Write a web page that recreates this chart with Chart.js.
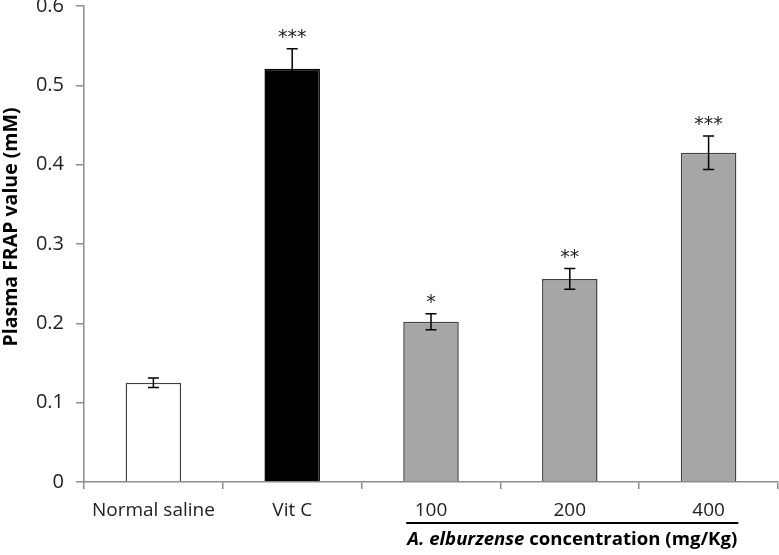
<!DOCTYPE html>
<html>
<head>
<meta charset="utf-8">
<script src="https://cdn.jsdelivr.net/npm/chart.js@4/dist/chart.umd.min.js"></script>
<style>
  html, body { margin: 0; padding: 0; background: #fff; }
</style>
</head>
<body>
<canvas id="chart" width="779" height="555"></canvas>
<script>
// data
const categories = ["Normal saline", "Vit C", "100", "200", "400"];
const frapValues = [0.125, 0.521, 0.202, 0.256, 0.415];
const frapErrors = [0.006, 0.025, 0.010, 0.013, 0.021];
const significance = ["", "***", "*", "**", "***"];
const yTicks = [0, 0.1, 0.2, 0.3, 0.4, 0.5, 0.6];
const yTitle = "Plasma FRAP value (mM)";
const groupItalic = "A. elburzense";
const groupRest = " concentration (mg/Kg)";

const FONT = "'Open Sans', 'Noto Sans', sans-serif";
const AXIS = "#8c8c8c";
const fills = ["#ffffff", "#000000", "#a6a6a6", "#a6a6a6", "#a6a6a6"];
const edges = ["#404040", "#000000", "#404040", "#404040", "#404040"];

// error bars + significance stars
const errorBars = {
  id: "errorBars",
  afterDatasetsDraw(chart) {
    const ctx = chart.ctx;
    const y = chart.scales.y;
    const meta = chart.getDatasetMeta(0);
    ctx.save();
    meta.data.forEach((bar, i) => {
      const top = y.getPixelForValue(frapValues[i] + frapErrors[i]);
      const bot = y.getPixelForValue(frapValues[i] - frapErrors[i]);
      ctx.strokeStyle = "#000";
      ctx.lineWidth = 1.5;
      ctx.beginPath();
      ctx.moveTo(bar.x, top); ctx.lineTo(bar.x, bot);
      ctx.moveTo(bar.x - 5.5, top); ctx.lineTo(bar.x + 5.5, top);
      ctx.moveTo(bar.x - 5.5, bot); ctx.lineTo(bar.x + 5.5, bot);
      ctx.stroke();
      if (significance[i]) {
        ctx.fillStyle = "#222";
        ctx.font = "19px 'DejaVu Sans'";
        ctx.textAlign = "center";
        ctx.textBaseline = "alphabetic";
        ctx.fillText(significance[i], bar.x, top - 6);
      }
    });
    ctx.restore();
  }
};

// y title, bracket line and group title under the dose bars
const extraText = {
  id: "extraText",
  afterDraw(chart) {
    const ctx = chart.ctx;
    const meta = chart.getDatasetMeta(0);
    const a = meta.data[2], b = meta.data[4];
    const x1 = a.x - a.width / 2 + 3, x2 = b.x + b.width / 2 + 2;
    ctx.save();
    ctx.strokeStyle = "#000";
    ctx.lineWidth = 2;
    ctx.beginPath();
    ctx.moveTo(x1, 523); ctx.lineTo(x2, 523);
    ctx.stroke();

    ctx.fillStyle = "#000";
    ctx.textBaseline = "alphabetic";
    ctx.textAlign = "left";
    const fi = "italic bold 18.6px " + FONT, fb = "bold 18.6px " + FONT;
    ctx.font = fi; const w1 = ctx.measureText(groupItalic).width;
    ctx.font = fb; const w2 = ctx.measureText(groupRest).width;
    const start = (x1 + x2) / 2 - (w1 + w2) / 2;
    ctx.font = fi; ctx.fillText(groupItalic, start, 545);
    ctx.font = fb; ctx.fillText(groupRest, start + w1, 545);

    ctx.translate(11, 227);
    ctx.rotate(-Math.PI / 2);
    ctx.textAlign = "center";
    ctx.textBaseline = "middle";
    ctx.font = "bold 19.5px " + FONT;
    ctx.fillText(yTitle, 0, 0);
    ctx.restore();
  }
};

new Chart(document.getElementById("chart"), {
  type: "bar",
  data: {
    labels: categories,
    datasets: [{
      data: frapValues,
      backgroundColor: fills,
      borderColor: edges,
      borderWidth: 1.5,
      categoryPercentage: 1,
      barPercentage: 0.4
    }]
  },
  options: {
    responsive: false,
    animation: false,
    layout: { padding: { left: 0, right: 1, top: 0, bottom: 0 } },
    plugins: { legend: { display: false }, tooltip: { enabled: false } },
    scales: {
      x: {
        grid: { drawOnChartArea: false, tickLength: 7, color: AXIS, lineWidth: 1.5 },
        border: { color: AXIS, width: 1.5 },
        ticks: { color: "#222", font: { family: FONT, size: 19 }, padding: 10, maxRotation: 0 },
        afterFit: s => { s.height = 73; s.paddingLeft = 0; s.paddingRight = 0; }
      },
      y: {
        min: 0, max: 0.6,
        afterBuildTicks: s => { s.ticks = yTicks.map(v => ({ value: v })); },
        grid: { drawOnChartArea: false, tickLength: 8, color: AXIS, lineWidth: 1.5 },
        border: { color: AXIS, width: 1.5 },
        ticks: { color: "#222", font: { family: FONT, size: 20 }, padding: 12,
                 callback: v => String(+Number(v).toFixed(1)) },
        afterFit: s => { s.width = 84; s.paddingTop = 6; s.paddingBottom = 0; }
      }
    }
  },
  plugins: [errorBars, extraText]
});
</script>
</body>
</html>
